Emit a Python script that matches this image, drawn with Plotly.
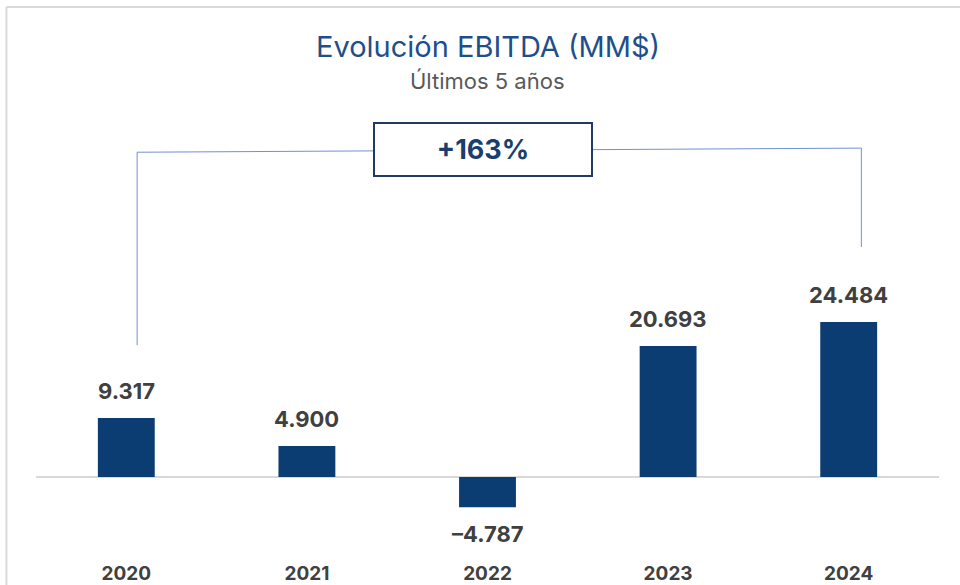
import plotly.graph_objects as go

years = ["2020", "2021", "2022", "2023", "2024"]
ebitda = [9317, 4900, -4787, 20693, 24484]

title_text = "Evolución EBITDA (MM$)"
subtitle_text = "Últimos 5 años"

BAR = "#0b3d73"
NAVY = "#1a3f6e"
LABEL = "#404040"
FONT = "Inter"

def fmt(v):
    s = f"{abs(v):,}".replace(",", ".")
    return ("–" + s) if v < 0 else s

growth = (ebitda[-1] / ebitda[0] - 1) * 100
growth_text = f"+{growth:.0f}%"

fig = go.Figure()
fig.add_trace(go.Bar(
    x=list(range(len(years))), y=ebitda,
    marker=dict(color=BAR, line=dict(width=0)),
    width=0.315, hoverinfo="skip",
))

# value labels
for i, v in enumerate(ebitda):
    fig.add_annotation(
        x=i, y=v, xref="x", yref="y", text=f"<b>{fmt(v)}</b>", showarrow=False,
        yanchor="bottom" if v >= 0 else "top", yshift=12 if v >= 0 else -12,
        font=dict(family=FONT, size=22, color=LABEL),
    )

# bracket from first to last bar
lc = "#7090d8"
x_left, x_right = 0.06, 4.07
y_top_l, y_top_r = 51300, 51950
y_bot_l = ebitda[0] + 11500
y_bot_r = ebitda[-1] + 11850
fig.add_shape(type="line", xref="x", yref="y", x0=x_left, x1=x_left, y0=y_bot_l, y1=y_top_l,
              line=dict(color=lc, width=1))
fig.add_shape(type="line", xref="x", yref="y", x0=x_left, x1=x_right, y0=y_top_l, y1=y_top_r,
              line=dict(color=lc, width=1))
fig.add_shape(type="line", xref="x", yref="y", x0=x_right, x1=x_right, y0=y_top_r, y1=y_bot_r,
              line=dict(color=lc, width=1))

fig.add_annotation(
    x=1.975, y=51800, xref="x", yref="y", text=f"<b>{growth_text}</b>", showarrow=False,
    xanchor="center", yanchor="middle",
    width=214, height=49, borderpad=1, borderwidth=2, bordercolor="#1f3a64", bgcolor="white",
    font=dict(family=FONT, size=27, color=NAVY),
)

# title & subtitle
fig.add_annotation(x=0.5, y=1.0 + (100 - 47) / 460, xref="paper", yref="paper",
                   text=title_text, showarrow=False, yanchor="middle",
                   font=dict(family=FONT, size=29, color="#1f4f8a"))
fig.add_annotation(x=0.5, y=1.0 + (100 - 81) / 460, xref="paper", yref="paper",
                   text=subtitle_text, showarrow=False, yanchor="middle",
                   font=dict(family=FONT, size=22, color="#595959"))

# outer frame lines (top and left)
fig.add_shape(type="line", xref="paper", yref="paper", x0=(6 - 35.6) / 904, x1=1.03,
              y0=(560 - 7) / 460, y1=(560 - 7) / 460, line=dict(color="#d9d9d9", width=2))
fig.add_shape(type="line", xref="paper", yref="paper", x0=(6 - 35.6) / 904, x1=(6 - 35.6) / 904,
              y0=(560 - 7) / 460, y1=-0.1, line=dict(color="#d9d9d9", width=2))

fig.update_layout(
    width=960, height=585,
    margin=dict(l=35.6, r=20.6, t=100, b=25, autoexpand=False),
    paper_bgcolor="white", plot_bgcolor="white",
    showlegend=False,
    xaxis=dict(
        tickmode="array", tickvals=list(range(len(years))), ticktext=[f"<b>{y}</b>" for y in years],
        range=[-0.5, 4.5], showgrid=False, showline=False, zeroline=False, ticks="",
        tickfont=dict(family=FONT, size=19, color="#404040"), automargin=False,
    ),
    yaxis=dict(
        range=[-13110, 59550], showgrid=False, showticklabels=False, ticks="",
        zeroline=True, zerolinecolor="#d9d9d9", zerolinewidth=2, showline=False, automargin=False,
    ),
)

fig.write_html("out.html", config={"displayModeBar": False},
               post_script="document.body.style.margin='0';document.body.style.overflow='hidden';")
